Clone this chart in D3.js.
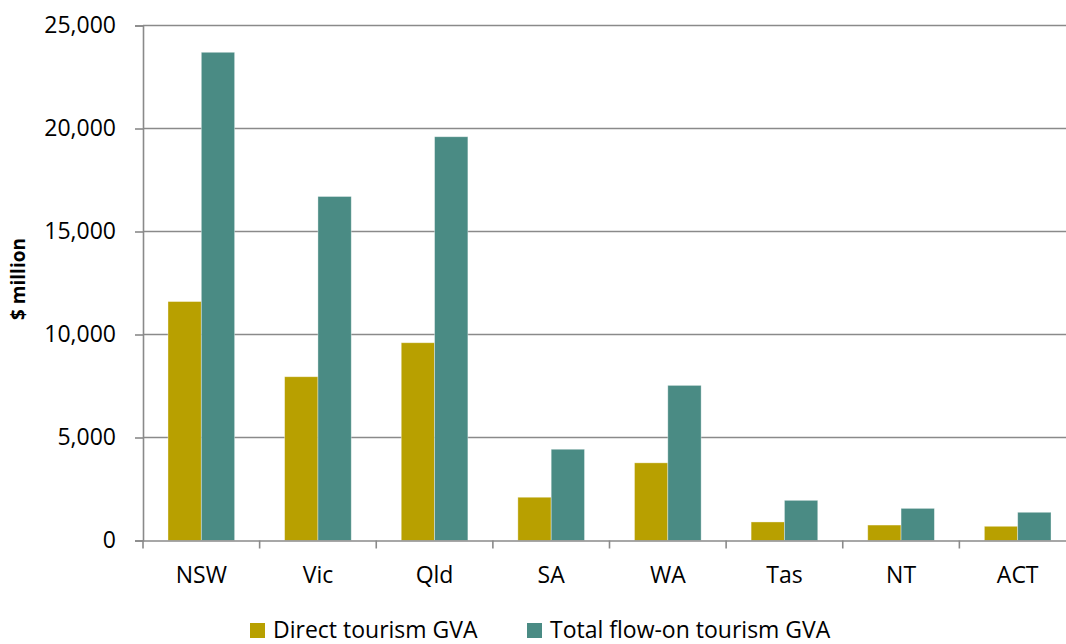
<!DOCTYPE html>
<html>
<head>
<meta charset="utf-8">
<script src="https://cdn.jsdelivr.net/npm/d3@7"></script>
<style>
  html, body { margin: 0; padding: 0; background: #fff; }
  svg { display: block; }
  svg text { font-family: "Open Sans", "Noto Sans", sans-serif; fill: #000; }
</style>
</head>
<body>
<svg id="chart" width="1066" height="644"></svg>
<script>
// Tourism gross value added by state/territory ($ million)
const states = ["NSW", "Vic", "Qld", "SA", "WA", "Tas", "NT", "ACT"];
const directGVA = [11600, 7950, 9600, 2100, 3770, 900, 750, 690];
const totalGVA = [23700, 16700, 19600, 4430, 7530, 1950, 1560, 1370];
const seriesNames = ["Direct tourism GVA", "Total flow-on tourism GVA"];
const seriesColors = ["#B8A000", "#4A8B84"];
const yTicks = [0, 5000, 10000, 15000, 20000, 25000];

const svg = d3.select("#chart");
const plotLeft = 143, plotRight = 1076, plotTop = 25.5, plotBottom = 540.5;
const axisColor = "#8a8a8a";

const x = d3.scaleBand().domain(states).range([plotLeft, plotRight]).paddingInner(0).paddingOuter(0);
const inner = d3.scaleBand().domain([0, 1]).range([0, x.bandwidth()]).paddingInner(0).paddingOuter(0.75);
const y = d3.scaleLinear().domain([0, 25000]).range([plotBottom, plotTop]);

// horizontal gridlines
svg.append("g")
  .selectAll("line")
  .data(yTicks.slice(1))
  .join("line")
  .attr("x1", plotLeft).attr("x2", plotRight)
  .attr("y1", d => y(d)).attr("y2", d => y(d))
  .attr("stroke", axisColor).attr("stroke-width", 1.6);

// bars
const rows = states.map((s, i) => ({ s, v: [directGVA[i], totalGVA[i]] }));
const groups = svg.append("g").selectAll("g")
  .data(rows).join("g")
  .attr("transform", d => `translate(${x(d.s)},0)`);
groups.selectAll("rect")
  .data(d => d.v.map((v, k) => ({ v, k })))
  .join("rect")
  .attr("x", d => inner(d.k))
  .attr("width", inner.bandwidth())
  .attr("y", d => y(d.v))
  .attr("height", d => y(0) - y(d.v))
  .attr("fill", d => seriesColors[d.k])
  .attr("stroke", "rgba(255,255,255,0.45)")
  .attr("stroke-width", 0.8);

// y axis
const yAxis = svg.append("g")
  .attr("transform", `translate(${plotLeft},0)`)
  .call(d3.axisLeft(y).tickValues(yTicks).tickFormat(d3.format(",")).tickSizeOuter(0).tickSize(8).tickPadding(19));
yAxis.attr("font-family", null);
yAxis.select(".domain").attr("stroke", axisColor).attr("stroke-width", 1.6);
yAxis.selectAll(".tick line").attr("stroke", axisColor).attr("stroke-width", 1.6);
yAxis.selectAll(".tick text").attr("font-size", 23);

// x axis
const xAxis = svg.append("g")
  .attr("transform", `translate(0,${plotBottom})`)
  .call(d3.axisBottom(x).tickSize(0).tickPadding(26).tickSizeOuter(0));
xAxis.attr("font-family", null);
xAxis.select(".domain").attr("stroke", axisColor).attr("stroke-width", 1.6);
xAxis.selectAll(".tick text").attr("font-size", 23);
// category boundary tick marks
svg.append("g").selectAll("line")
  .data(states)
  .join("line")
  .attr("x1", d => x(d)).attr("x2", d => x(d))
  .attr("y1", plotBottom).attr("y2", plotBottom + 8)
  .attr("stroke", axisColor).attr("stroke-width", 1.6);

// y axis title
svg.append("text")
  .attr("transform", "translate(25,279) rotate(-90)")
  .attr("text-anchor", "middle")
  .attr("font-size", 19).attr("font-weight", "bold")
  .text("$ million");

// legend
const legendX = [250, 527];
const legend = svg.append("g").selectAll("g")
  .data(seriesNames).join("g")
  .attr("transform", (d, i) => `translate(${legendX[i]},623)`);
legend.append("rect")
  .attr("width", 15).attr("height", 15)
  .attr("fill", (d, i) => seriesColors[i]);
legend.append("text")
  .attr("x", 23).attr("y", 14.5)
  .attr("font-size", 23)
  .text(d => d);
</script>
</body>
</html>
